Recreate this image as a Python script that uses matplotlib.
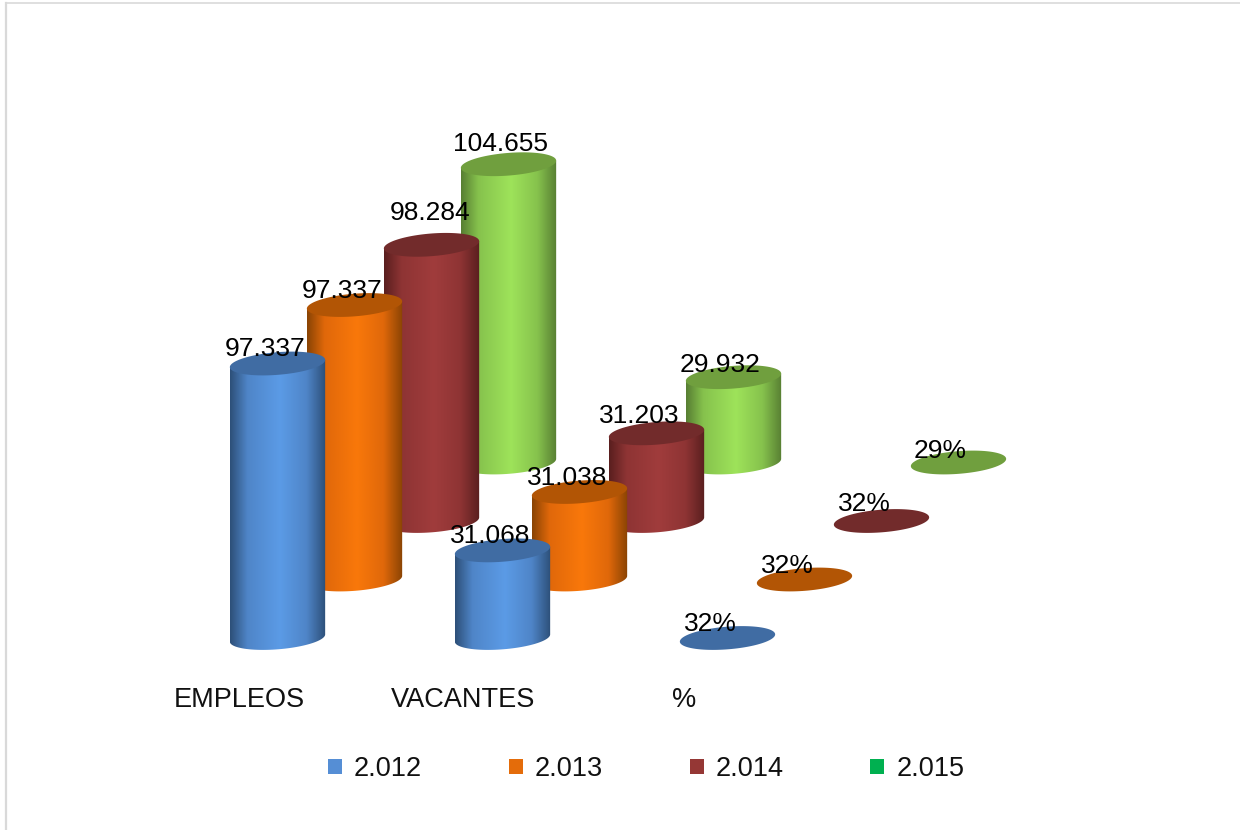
import matplotlib
matplotlib.use("Agg")
import matplotlib.pyplot as plt
import numpy as np
from matplotlib.colors import LinearSegmentedColormap
from matplotlib.patches import Patch, Polygon

plt.rcParams["font.family"] = ["Liberation Sans", "DejaVu Sans"]

years = ["2.012", "2.013", "2.014", "2.015"]
categories = ["EMPLEOS", "VACANTES", "%"]
empleos = [97337, 97337, 98284, 104655]
vacantes = [31068, 31038, 31203, 29932]
porcentaje = [32, 32, 32, 29]

legend_colors = ["#558ed5", "#e46c0a", "#953735", "#00b050"]
edge_colors = ["#2d5079", "#8a4404", "#5a1f1f", "#587f33"]
mid_colors = ["#4f85c8", "#e0680a", "#8e3434", "#86c24d"]
light_colors = ["#5b9be6", "#f9780a", "#a03c3c", "#9ee35a"]
top_colors = ["#406ca3", "#b25505", "#722b2b", "#709f3e"]

# oblique projection, in pixels of the figure
x0, y0 = 277.5, 638
cat_step = 225
depth_dx, depth_dy = 77, -58.5
px_per_unit = [2.82 / 1000, 2.82 / 1000, 2.81 / 1000, 2.85 / 1000]
half_w, half_h = 47.8, 11.3
tilt = np.radians(-4.6)

# label offset from the top of each cylinder (dx, dy), rows = categories
label_dx = [[-12, -12, -1, -8], [-12, -12, -17, -13], [-17, -17, -17, -18]]
label_dy = [[-14.5, -14, -32, -20], [-14, -14, -17, -12], [-14, -13.5, -17, -11.5]]
cat_label_x = [239, 463.5, 684]


def ellipse_xy(cx, cy, t):
    x = cx + half_w * np.cos(t) * np.cos(tilt) - half_h * np.sin(t) * np.sin(tilt)
    y = cy + half_w * np.cos(t) * np.sin(tilt) + half_h * np.sin(t) * np.cos(tilt)
    return x, y


def draw_cylinder(ax, cx, base_y, top_y, series, z):
    t_right = np.arctan2(-half_h * np.sin(tilt), half_w * np.cos(tilt))
    if base_y - top_y > 1:
        t = np.linspace(t_right, t_right + np.pi, 80)
        bx, by = ellipse_xy(cx, base_y, t)
        tx, ty = ellipse_xy(cx, top_y, t[[-1, 0]])
        points = np.column_stack([np.r_[bx, tx], np.r_[by, ty]])
        body = Polygon(points, closed=True, facecolor="none", edgecolor="none", zorder=z)
        ax.add_patch(body)
        cmap = LinearSegmentedColormap.from_list(
            "cyl",
            [
                (0.0, edge_colors[series]),
                (0.18, mid_colors[series]),
                (0.52, light_colors[series]),
                (0.8, mid_colors[series]),
                (1.0, edge_colors[series]),
            ],
        )
        gradient = np.linspace(0, 1, 200).reshape(1, -1)
        image = ax.imshow(
            gradient,
            cmap=cmap,
            aspect="auto",
            extent=(cx - half_w, cx + half_w, base_y + 14, top_y - 14),
            zorder=z,
        )
        image.set_clip_path(body)
    t = np.linspace(0, 2 * np.pi, 120)
    ex, ey = ellipse_xy(cx, top_y, t)
    ax.add_patch(
        Polygon(np.column_stack([ex, ey]), closed=True, facecolor=top_colors[series],
                edgecolor="none", zorder=z + 0.5)
    )


fig = plt.figure(figsize=(12.4, 8.3), dpi=100)
ax = fig.add_axes([0, 0, 1, 1])
ax.axis("off")

rows = [empleos, vacantes, [p / 100 for p in porcentaje]]
label_rows = [
    [f"{v:,}".replace(",", ".") for v in empleos],
    [f"{v:,}".replace(",", ".") for v in vacantes],
    [f"{p}%" for p in porcentaje],
]

for series in reversed(range(len(years))):
    for cat in range(len(categories)):
        cx = x0 + cat_step * cat + depth_dx * series
        base_y = y0 + depth_dy * series
        top_y = base_y - rows[cat][series] * px_per_unit[series]
        draw_cylinder(ax, cx, base_y, top_y, series, 2 + (3 - series) + cat * 0.1)
        ax.text(cx + label_dx[cat][series], top_y + label_dy[cat][series], label_rows[cat][series],
                fontsize=19, color="black", ha="center", va="center", zorder=20)

for name, xpos in zip(categories, cat_label_x):
    ax.text(xpos, 700, name, fontsize=19.5, color="#111111", ha="center", va="center", zorder=20)

# chart frame, only top and left show
ax.plot([6, 6], [830, 3.5], color="#d9d9d9", lw=1.6, zorder=1)
ax.plot([6, 1240], [3.5, 3.5], color="#d9d9d9", lw=1.2, zorder=1)

ax.set_xlim(0, 1240)
ax.set_ylim(830, 0)

handles = [Patch(facecolor=c, edgecolor="none", label=y) for c, y in zip(legend_colors, years)]
ax.legend(
    handles=handles,
    ncol=4,
    frameon=False,
    fontsize=19.5,
    loc="center",
    bbox_to_anchor=(646 / 1240, 1 - 769 / 830),
    handlelength=0.52,
    handleheight=0.52,
    handletextpad=0.44,
    columnspacing=3.2,
    labelcolor="#111111",
)

plt.savefig("out.png", dpi=100)
plt.close()
